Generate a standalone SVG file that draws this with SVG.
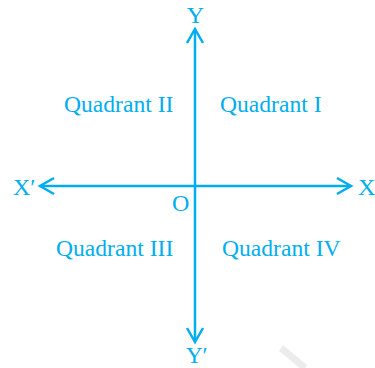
<svg xmlns="http://www.w3.org/2000/svg" width="375" height="368" viewBox="0 0 375 368">
<style>
.ax{stroke:#00AEEF;stroke-width:2.5;fill:none;stroke-linecap:butt;stroke-linejoin:miter}
.t{font-family:"Liberation Serif","Times New Roman",serif;fill:#00AEEF;font-size:23.6px}
.l{font-family:"Liberation Serif","Times New Roman",serif;fill:#00AEEF;font-size:24px}
</style>
<rect width="375" height="368" fill="#fff"/>
<line x1="281" y1="348" x2="305" y2="368" stroke="#ececec" stroke-width="7"/>
<g id="connectors">
<line class="ax" x1="195" y1="30" x2="195" y2="341"/>
<line class="ax" x1="41" y1="186" x2="350" y2="186"/>
<polyline class="ax" points="187,43 195,29 203,43"/>
<polyline class="ax" points="187,328 195,342 203,328"/>
<polyline class="ax" points="54,178 40,186 54,194"/>
<polyline class="ax" points="337,178 351,186 337,194"/>
</g>
<g id="axis-labels">
<text id="Y" class="l" x="195.5" y="23" text-anchor="middle">Y</text>
<text id="Yp" class="l" x="186" y="363" style="font-size:23px">Y′</text>
<text id="X" class="l" x="358" y="195">X</text>
<text id="Xp" class="l" x="13" y="195">X′</text>
<text id="O" class="l" x="172" y="211">O</text>
</g>
<g id="q2"><text class="t" x="64" y="112">Quadrant II</text></g>
<g id="q1"><text class="t" x="220" y="112">Quadrant I</text></g>
<g id="q3"><text class="t" x="56" y="256">Quadrant III</text></g>
<g id="q4"><text class="t" x="222" y="256">Quadrant IV</text></g>
</svg>
